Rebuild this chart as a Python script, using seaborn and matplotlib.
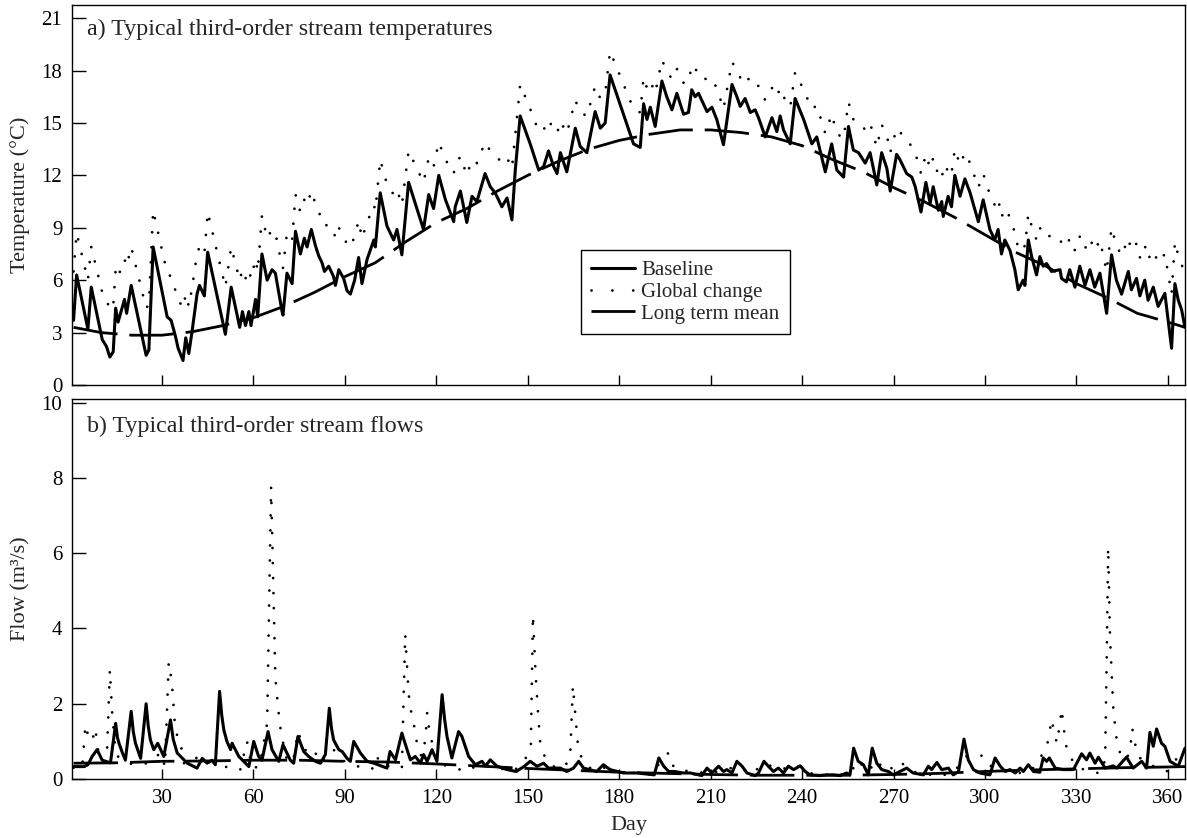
import numpy as np
import pandas as pd
import matplotlib
matplotlib.use("Agg")
import matplotlib.pyplot as plt
from matplotlib.lines import Line2D
import seaborn as sns

# ---------------- data: temperature (deg C) ----------------
temp_days = [1, 2, 5.7, 6.8, 10.4, 11.8, 12.9, 14, 14.8, 15.6, 17.7, 18.4, 19.9, 24.8, 25.7, 27.1,
             31.7, 33, 34.4, 35.3, 36.9, 37.8, 38.8, 39.9, 41.5, 42.3, 43.9, 45, 50.8, 52.7, 55.5,
             56.4, 57.4, 58.5, 59.2, 60.7, 61.4, 62.8, 64.5, 66.1, 67.2, 69.4, 69.7, 71, 72.7, 73.8,
             75.4, 76.7, 77.6, 79, 80.3, 81.4, 82.5, 83.3, 84.7, 86.3, 86.9, 88, 89.6, 90.7, 91.8,
             93.2, 94.5, 95.6, 97.3, 99.5, 100, 101.6, 103.8, 106, 107.1, 108.7, 110.9, 115.8, 117.5,
             119.1, 120.8, 123, 125.7, 126.2, 127.9, 130, 131.7, 133.3, 136, 137.7, 139.3, 141.5,
             143.2, 144.8, 145.9, 147.5, 150.8, 153.6, 155.2, 156.8, 158.5, 159.6, 160.7, 162.8,
             165.6, 167.2, 169.4, 172.1, 173.8, 175.4, 177, 184.7, 186.9, 188, 189.1, 190.2, 191.8,
             194, 195.6, 197.3, 198.9, 201.1, 202.7, 203.8, 204.9, 206, 208.8, 210.4, 212, 214.2,
             217, 218.6, 219.7, 221.3, 223, 224.6, 225.7, 227.9, 230.1, 231.7, 232.8, 233.9, 236.1,
             237.7, 240.5, 243.2, 244.8, 247.6, 249.7, 251.4, 253.6, 255.2, 256.8, 258.5, 260.7,
             262.3, 264.5, 266.1, 267.8, 268.9, 271, 272.1, 274.3, 276, 277.1, 279, 280.6, 282, 283,
             284.7, 285.8, 286.3, 287.9, 289, 290.1, 291.8, 293.4, 295.1, 297.8, 299.4, 301.6, 303.2,
             304.3, 305.4, 306.5, 308.2, 309.8, 310.9, 312.5, 313.1, 314.2, 315.3, 316.9, 318, 319.1,
             320.2, 321.8, 324.6, 325.1, 326.7, 327.8, 329.5, 331.1, 332.8, 334.4, 336, 337.7, 339.9,
             341.5, 343.1, 344.8, 347, 348, 349.7, 350.8, 352.4, 353.5, 355.2, 356.8, 359, 361.2,
             362.3, 363.4, 364.5, 365.6]

temp_baseline = [3.7, 6.3, 3.2, 5.6, 2.6, 2.2, 1.6, 1.9, 4.4, 3.6, 4.9, 4.1, 5.7, 1.7, 2.0, 7.9,
                 3.9, 3.7, 2.8, 2.1, 1.4, 2.7, 1.8, 3.1, 5.2, 5.7, 5.1, 7.6, 2.9, 5.6, 3.3,
                 4.2, 3.4, 4.2, 3.4, 4.9, 3.9, 7.5, 6.0, 6.6, 6.4, 4.2, 4.0, 6.4, 5.8, 8.8,
                 7.5, 8.4, 7.9, 8.9, 8.0, 7.4, 7.0, 6.5, 6.8, 6.2, 5.7, 6.6, 6.1, 5.4, 5.2,
                 6.0, 7.3, 5.8, 7.2, 8.3, 7.9, 11.0, 9.1, 8.3, 8.9, 7.45, 11.6, 8.9, 10.9,
                 10.1, 12.0, 10.6, 9.35, 10.2, 11.1, 9.3, 10.8, 10.5, 12.1, 11.35, 11.0, 10.2,
                 10.7, 9.45, 12.3, 15.4, 13.8, 12.3, 12.5, 13.4, 12.5, 12.1, 13.3, 12.2,
                 14.7, 13.65, 13.3, 15.65, 14.7, 15.0, 17.75, 13.8, 13.6, 16.1, 15.2, 15.9, 14.8,
                 17.4, 16.5, 15.75, 16.7, 15.5, 15.6, 16.9, 16.5, 16.7, 15.65, 15.9, 15.2, 13.75,
                 17.2, 16.5, 15.95, 16.4, 15.6, 15.75, 15.3, 14.2, 15.3, 14.5, 15.4, 14.6, 13.8,
                 16.4, 15.2, 13.8, 14.2, 12.2, 13.8, 12.3, 11.9, 14.8, 13.45, 13.3, 12.7,
                 13.3, 11.45, 13.3, 12.4, 11.1, 13.2, 12.9, 12.1, 11.9, 11.35, 9.9, 11.6, 10.4, 11.35,
                 10.0, 10.5, 9.65, 10.8, 10.2, 12.0, 10.8, 11.8, 11.0, 9.35, 10.6, 8.9, 8.3,
                 8.9, 7.5, 8.3, 7.7, 6.6, 5.45, 6.0, 5.7, 8.3, 7.35, 6.3, 7.35, 6.8,
                 6.95, 6.5, 6.6, 6.1, 5.9, 6.6, 5.6, 6.8, 5.7, 6.6, 5.6, 6.4, 4.1,
                 7.45, 6.0, 5.2, 6.5, 5.45, 6.1, 5.1, 6.0, 4.85, 5.6, 4.5, 5.25, 2.1,
                 5.8, 4.85, 4.3, 3.3]

temp_global = [6.5, 8.7, 6.0, 7.9, 5.3, 4.9, 4.3, 4.5, 6.6, 6.2, 7.2, 6.8, 7.9, 4.4, 4.6, 10.0,
               6.4, 6.2, 5.4, 4.9, 4.4, 5.2, 4.5, 5.6, 7.5, 7.9, 7.5, 9.9, 5.6, 7.9, 6.0,
               6.6, 6.1, 6.6, 6.1, 7.2, 6.5, 9.7, 8.4, 8.9, 8.7, 6.8, 6.7, 8.7, 8.3, 10.9,
               9.9, 10.6, 10.3, 11.1, 10.4, 9.9, 9.5, 9.1, 9.2, 8.8, 8.4, 9.0, 8.6, 8.0, 7.9,
               8.5, 9.4, 8.4, 9.3, 10.3, 10.0, 12.9, 11.5, 10.9, 11.2, 10.3, 13.4, 11.6, 13.0,
               12.5, 13.9, 12.9, 12.1, 12.5, 13.1, 12.0, 12.9, 12.7, 13.9, 13.4, 13.2, 12.7,
               13.0, 12.4, 14.3, 17.2, 15.8, 14.5, 14.6, 15.2, 14.6, 14.4, 15.1, 14.4,
               16.3, 15.6, 15.4, 17.1, 16.4, 16.7, 19.1, 15.8, 15.6, 17.6, 17.0, 17.4, 16.7,
               18.6, 18.0, 17.5, 18.1, 17.3, 17.3, 18.3, 18.0, 18.1, 17.4, 17.5, 17.0, 15.8,
               18.5, 18.0, 17.6, 17.9, 17.3, 17.4, 17.1, 16.3, 17.0, 16.5, 17.0, 16.5, 15.9,
               17.9, 16.9, 15.8, 16.0, 14.4, 15.5, 14.4, 14.1, 16.2, 15.2, 15.1, 14.6,
               15.0, 13.6, 14.9, 14.3, 13.3, 14.7, 14.5, 13.9, 13.7, 13.3, 12.1, 13.2, 12.4, 13.0,
               12.0, 12.3, 11.8, 12.5, 12.1, 13.5, 12.6, 13.3, 12.7, 11.3, 12.1, 10.9, 10.3,
               10.7, 9.6, 10.1, 9.6, 8.7, 7.8, 8.1, 7.9, 9.8, 9.1, 8.3, 9.0, 8.6,
               8.7, 8.4, 8.4, 8.1, 7.9, 8.4, 7.7, 8.5, 7.8, 8.4, 7.7, 8.3, 6.5,
               9.0, 8.0, 7.4, 8.4, 7.7, 8.1, 7.3, 8.0, 7.2, 7.7, 7.0, 7.5, 5.2,
               8.2, 7.4, 6.9, 6.3]

mean_temp_days = [1, 10, 20, 30, 40, 50, 60, 70, 80, 90, 100, 110, 120, 130, 140, 150, 160, 170,
                  180, 190, 200, 210, 220, 230, 240, 250, 260, 270, 280, 290, 300, 310, 320, 330,
                  340, 350, 360, 365.6]
mean_temp = [3.3, 3.0, 2.85, 2.85, 3.05, 3.4, 3.85, 4.5, 5.3, 6.2, 7.0, 8.2, 9.3, 10.1, 11.1, 12.0,
             12.8, 13.5, 14.0, 14.35, 14.6, 14.6, 14.45, 14.2, 13.7, 12.9, 12.2, 11.3, 10.5, 9.6,
             8.6, 7.6, 6.8, 5.8, 5.0, 4.1, 3.6, 3.3]

# ---------------- data: flow (m3/s) ----------------
flow_days = [1, 4.5, 5.7, 7.1, 8.7, 10.4, 13.1, 14.8, 15.4, 15.9, 17, 18, 19.9, 20.6, 21.3, 23,
             24.8, 25.5, 26.2, 27.3, 28.6, 30.6, 32.8, 33.7, 35, 38.3, 41.5, 43.2, 44.8, 46.4,
             47.5, 48.9, 49.6, 50.3, 51.3, 52.5, 53, 55.2, 58.5, 60.1, 61.7, 62.8, 64.8, 66.1,
             68.3, 69.7, 72.1, 73.2, 74.6, 76.5, 78.1, 80.3, 82, 83.6, 84.9, 85.6, 86.3, 88, 89.1,
             90.7, 91.8, 92.9, 95.1, 97.3, 99.5, 103.8, 104.8, 106.6, 108.7, 110.4, 111.5, 113.1,
             114.8, 115.8, 117, 118.6, 120.2, 121.9, 122.7, 123.5, 125.1, 127.3, 128.4, 130.6,
             132.8, 135, 136.1, 137.7, 139.9, 143.2, 146.2, 148.9, 150.8, 153, 155.2, 156.8,
             160.7, 162.8, 165, 166.7, 168.3, 172.6, 174.8, 177, 181.4, 185.8, 191.5, 193, 194.6,
             196.2, 198, 201.1, 203.3, 207.1, 208.8, 210.4, 212.6, 214.2, 215.3, 217, 218.6,
             220.3, 221.9, 224.6, 225.7, 227.5, 228.9, 230.6, 232.2, 233.9, 235.5, 237.2, 239.4,
             241, 242.6, 245.9, 248.1, 250.3, 252.5, 254.6, 255.7, 256.9, 258.4, 260.1, 261.7,
             263, 264.5, 266.1, 268.3, 269.9, 272.1, 274.3, 276.4, 279.8, 281.4, 282.5, 284.2,
             285.8, 288, 289.6, 291.3, 293.1, 294.5, 296.2, 298.3, 301.6, 303.3, 305, 306.6,
             308.2, 309.9, 311.5, 312.6, 314.2, 315.9, 318, 319.1, 320.2, 321.1, 323, 325.7, 329,
             331.7, 333.3, 334.4, 336.1, 337.2, 339.4, 342.1, 343.2, 346.4, 348.6, 351.4, 353,
             354.1, 355.2, 356.3, 357.9, 359, 360.7, 363.4, 365.6]

flow_baseline = [0.33, 0.33, 0.38, 0.6, 0.78, 0.5, 0.43, 1.48, 1.1, 0.95, 0.7, 0.5, 1.8, 1.25, 0.95, 0.55,
                 2.0, 1.4, 1.04, 0.78, 0.95, 0.6, 1.57, 1.05, 0.69, 0.42, 0.29, 0.55, 0.42, 0.5,
                 0.38, 2.33, 1.7, 1.3, 1.0, 0.78, 0.95, 0.6, 0.33, 1.0, 0.6, 0.5, 1.26, 0.78,
                 0.47, 0.91, 0.5, 0.42, 1.13, 0.73, 0.6, 0.47, 0.42, 0.65, 1.88, 1.35, 1.04, 0.78, 0.73,
                 0.55, 0.47, 1.0, 0.69, 0.47, 0.42, 0.29, 0.73, 0.51, 1.22, 0.78, 0.51, 0.6,
                 0.42, 0.65, 0.47, 0.78, 0.47, 2.24, 1.6, 1.13, 0.56, 1.26, 1.13, 0.6,
                 0.38, 0.47, 0.34, 0.51, 0.34, 0.25, 0.2, 0.34, 0.47, 0.34, 0.42, 0.29,
                 0.29, 0.2, 0.29, 0.47, 0.29, 0.2, 0.38, 0.25, 0.16, 0.16, 0.11, 0.56, 0.34,
                 0.2, 0.2, 0.16, 0.16, 0.09, 0.29, 0.16, 0.34, 0.2, 0.25, 0.16, 0.47,
                 0.34, 0.16, 0.09, 0.16, 0.47, 0.34, 0.2, 0.29, 0.16, 0.34, 0.25, 0.35,
                 0.2, 0.11, 0.09, 0.11, 0.11, 0.09, 0.16, 0.11, 0.82, 0.47, 0.38, 0.11,
                 0.82, 0.42, 0.25, 0.2, 0.11, 0.2, 0.29, 0.16, 0.11, 0.34, 0.25, 0.44,
                 0.25, 0.29, 0.11, 0.2, 1.06, 0.51, 0.25, 0.16, 0.11, 0.56, 0.34, 0.2,
                 0.25, 0.16, 0.29, 0.2, 0.38, 0.2, 0.18, 0.56, 0.47, 0.56, 0.29, 0.25, 0.25,
                 0.67, 0.51, 0.69, 0.42, 0.58, 0.29, 0.35, 0.29, 0.58, 0.29, 0.47, 0.29,
                 1.24, 0.87, 1.33, 0.95, 0.87, 0.47, 0.34, 0.82]

gflow_days = [1, 3.8, 4.9, 6, 7, 8.2, 8.7, 9.8, 11, 12, 12.9, 13.7, 14.8, 16, 18, 20, 23, 25, 27,
              29.5, 31, 32.2, 33.2, 34.2, 35.2, 36, 37.2, 40, 42.6, 44, 46.5, 49, 51.4, 55.7, 57.9,
              59.5, 62, 64.5, 65.8, 67.2, 68.6, 69.4, 71, 73, 74.6, 76, 77.5, 79.8, 82, 86.3, 89,
              94.5, 98.9, 100.5, 102, 104.9, 108.7, 109.8, 110.9, 111.5, 112.6, 113.2, 114.3,
              115.2, 116.4, 117, 117.5, 118.6, 120, 121.3, 124.6, 129.5, 134, 140, 145, 148.6,
              151, 151.7, 152.5, 153.4, 154.1, 155.7, 158, 162, 163.9, 164.8, 165.6, 166.4, 167.8,
              171, 175, 180, 186, 191, 193, 196.2, 198, 203, 210, 215, 219, 223, 228, 233, 238,
              243, 250, 256, 258, 262, 264, 268, 272, 276, 285.2, 290, 293.5, 298.9, 300.5, 304,
              310, 315, 320.2, 321.9, 322.7, 323.6, 324.6, 325.1, 325.7, 326.2, 327, 330, 334,
              338, 339.4, 339.9, 340.4, 341, 342.1, 343.2, 344.3, 346, 347.5, 348.3, 349.2, 350.3,
              351.9, 355, 359.6, 362.3, 365.6]

flow_global = [0.3, 0.29, 1.44, 1.09, 1.0, 1.35, 0.9, 0.5, 0.45, 0.78, 2.9, 1.7, 0.7, 0.55, 0.45,
               0.4, 0.38, 0.42, 0.5, 0.7, 0.33, 3.1, 2.6, 1.5, 1.05, 1.0, 0.42, 0.42, 0.7, 0.38,
               0.38, 0.5, 0.29, 0.25, 1.0, 0.29, 0.33, 1.48, 7.77, 2.68, 1.48, 1.09, 0.5, 0.45,
               1.26, 0.95, 0.7, 0.78, 0.42, 0.78, 0.5, 0.33, 0.26, 0.6, 0.35, 0.34, 0.29, 3.85,
               2.28, 1.88, 1.48, 1.13, 0.73, 0.6, 1.04, 1.77, 1.4, 0.97, 0.55, 0.38, 0.34, 0.2,
               0.38, 0.3, 0.2, 0.42, 0.87, 4.36, 2.9, 1.71, 0.95, 0.56, 0.34, 0.3, 0.6, 2.48,
               1.71, 0.95, 0.51, 0.25, 0.3, 0.2, 0.15, 0.12, 0.4, 0.7, 0.29, 0.2, 0.15, 0.25,
               0.35, 0.15, 0.4, 0.25, 0.38, 0.15, 0.1, 0.15, 0.5, 0.2, 0.5, 0.2, 0.47, 0.2, 0.07,
               0.2, 0.6, 0.62, 0.38, 0.3, 0.15, 0.2, 0.82, 1.59, 1.22, 0.95, 1.49, 1.86, 1.49,
               1.09, 0.71, 0.33, 0.2, 0.15, 0.51, 3.08, 6.16, 3.79, 1.84, 1.04, 0.69, 0.5, 0.7,
               1.35, 0.95, 0.58, 0.51, 0.35, 0.2, 0.51, 0.6]

mean_flow_days = [1, 15, 30, 45, 60, 75, 90, 105, 120, 135, 150, 165, 180, 195, 210, 225, 240, 255,
                  270, 285, 300, 315, 330, 345, 360, 365.6]
mean_flow = [0.42, 0.43, 0.47, 0.48, 0.5, 0.5, 0.47, 0.45, 0.4, 0.34, 0.28, 0.23, 0.18, 0.15, 0.12,
             0.1, 0.1, 0.1, 0.12, 0.15, 0.2, 0.24, 0.27, 0.3, 0.32, 0.33]

series_labels = ["Baseline", "Global change", "Long term mean"]
day_ticks = [30, 60, 90, 120, 150, 180, 210, 240, 270, 300, 330, 360]
temp_ticks = [0, 3, 6, 9, 12, 15, 18, 21]
flow_ticks = [0, 2, 4, 6, 8, 10]

# ---------------- style ----------------
sns.set_style("ticks")
plt.rcParams['font.family'] = ['Liberation Serif', 'DejaVu Serif']
plt.rcParams['axes.linewidth'] = 1.0
plt.rcParams['axes.edgecolor'] = 'black'

fig = plt.figure(figsize=(11.87, 8.38), dpi=100)
ax1 = fig.add_axes([0.0607, 0.5406, 0.9376, 0.4534])
ax2 = fig.add_axes([0.0607, 0.0704, 0.9376, 0.4535])

DOT_STYLE = (0, (0.01, 5.4))
solid_kw = dict(color='black', linewidth=2.2, estimator=None, sort=False)
dot_kw = dict(color='black', linewidth=2.0, estimator=None, sort=False,
              linestyle=DOT_STYLE, dash_capstyle='round')
dash_kw = dict(color='black', linewidth=2.0, estimator=None, sort=False,
               linestyle=(0, (16, 4.3)))

# top panel
sns.lineplot(x=temp_days, y=temp_global, ax=ax1, **dot_kw)
sns.lineplot(x=mean_temp_days, y=mean_temp, ax=ax1, **dash_kw)
sns.lineplot(x=temp_days, y=temp_baseline, ax=ax1, **solid_kw)

# bottom panel
sns.lineplot(x=gflow_days, y=flow_global, ax=ax2, **dot_kw)
sns.lineplot(x=mean_flow_days, y=mean_flow, ax=ax2, **dash_kw)
sns.lineplot(x=flow_days, y=flow_baseline, ax=ax2, **solid_kw)

for ax in (ax1, ax2):
    ax.set_xlim(0.5, 365.6)
    ax.set_xticks(day_ticks)
    for s in ax.spines.values():
        s.set_visible(True)
        s.set_linewidth(1.0)
        s.set_color('black')
    ax.tick_params(axis='both', direction='in', length=7, width=1.0, labelsize=15, pad=7,
                   colors='black')
    ax.tick_params(axis='y', length=10)

ax1.set_ylim(0, 21.75)
ax1.set_yticks(temp_ticks)
ax1.set_xticklabels([])
ax1.set_xlabel("")
ax1.set_ylabel("Temperature (°C)", fontsize=16, labelpad=8)

ax2.set_ylim(0, 10.1)
ax2.set_yticks(flow_ticks)
ax2.set_xticklabels([str(d) for d in day_ticks])
ax2.set_xlabel("Day", fontsize=16, labelpad=6)
ax2.set_ylabel("Flow (m³/s)", fontsize=16, labelpad=8)

ax1.text(0.0135, 0.963, "a) Typical third-order stream temperatures", transform=ax1.transAxes,
         fontsize=17.3, va='top', ha='left')
ax2.text(0.0135, 0.955, "b) Typical third-order stream flows", transform=ax2.transAxes,
         fontsize=17.3, va='top', ha='left')

handles = [Line2D([], [], color='black', linewidth=2.2),
           Line2D([], [], color='black', linewidth=2.0, linestyle=(0, (0.01, 7.5)),
                  dash_capstyle='round'),
           Line2D([], [], color='black', linewidth=2.0, linestyle=(0, (16, 4.3)))]
leg = ax1.legend(handles, series_labels, loc='lower left', bbox_to_anchor=(0.457, 0.134),
                 borderaxespad=0, fontsize=15, frameon=True, fancybox=False, framealpha=1,
                 edgecolor='black', handlelength=2.1, handletextpad=0.3, labelspacing=0.1,
                 borderpad=0.5)
leg.get_frame().set_linewidth(1.0)

fig.savefig("out.png", dpi=100, facecolor='white')
